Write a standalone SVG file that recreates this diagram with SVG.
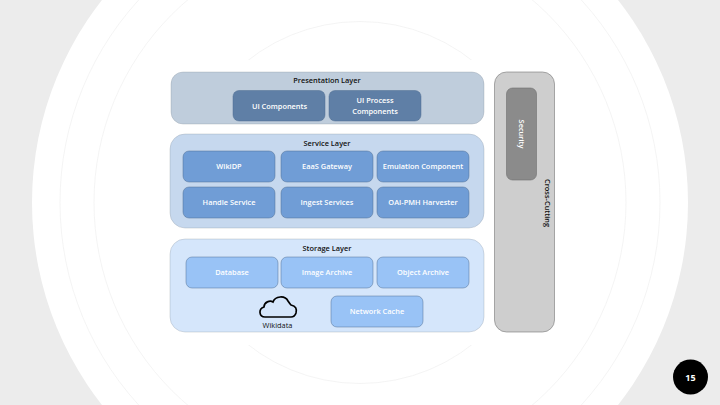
<svg xmlns="http://www.w3.org/2000/svg" width="720" height="405" viewBox="0 0 720 405">
<style>
text{font-family:"Open Sans","Noto Sans",sans-serif;font-size:7.4px;font-weight:600;text-anchor:middle}
.t{fill:#111}
.w{fill:#fff}
.ring{fill:none;stroke:#ececec;stroke-width:.6}
.layer{stroke:#7f8a96;stroke-width:.5;stroke-opacity:.55}
.box{stroke:#4f6c90;stroke-width:.6;stroke-opacity:.8}
</style>
<rect width="720" height="405" fill="#ececec"/>
<circle cx="360" cy="202.5" r="328" fill="#fff"/>
<circle class="ring" cx="360" cy="202.5" r="300"/>
<circle class="ring" cx="360" cy="202.5" r="266"/>
<circle class="ring" cx="360" cy="202.500" r="181"/>
<rect x="165" y="60" width="395" height="285" fill="#fff"/>
<g id="connectors"/>
<g id="presentation-layer"><rect class="layer" x="171" y="72" width="313" height="52" rx="12" fill="#bfcddc"/><text class="t" x="327" y="82.500">Presentation Layer</text></g>
<g id="ui-components"><rect class="box" x="233" y="90.500" width="92" height="30.500" rx="6" fill="#5f7fa6"/><text class="w" x="279.500" y="108.500">UI Components</text></g>
<g id="ui-process"><rect class="box" x="329" y="90.500" width="92" height="30.500" rx="6" fill="#5f7fa6"/><text class="w" x="375" y="103">UI Process</text><text class="w" x="375" y="113.500">Components</text></g>
<g id="service-layer"><rect class="layer" x="170" y="134" width="314" height="94" rx="15" fill="#c6d8ee"/><text class="t" x="327" y="146">Service Layer</text></g>
<g id="wikidp"><rect class="box" x="183" y="151" width="92" height="31" rx="6" fill="#709dd6"/><text class="w" x="229" y="169">WikiDP</text></g>
<g id="eaas-gateway"><rect class="box" x="281" y="151" width="92" height="31" rx="6" fill="#709dd6"/><text class="w" x="327" y="169">EaaS Gateway</text></g>
<g id="emulation-component"><rect class="box" x="377" y="151" width="92" height="31" rx="6" fill="#709dd6"/><text class="w" x="423" y="169">Emulation Component</text></g>
<g id="handle-service"><rect class="box" x="183" y="187" width="92" height="31" rx="6" fill="#709dd6"/><text class="w" x="229" y="205">Handle Service</text></g>
<g id="ingest-services"><rect class="box" x="281" y="187" width="92" height="31" rx="6" fill="#709dd6"/><text class="w" x="327" y="205">Ingest Services</text></g>
<g id="oai-pmh-harvester"><rect class="box" x="377" y="187" width="92" height="31" rx="6" fill="#709dd6"/><text class="w" x="423" y="205">OAI-PMH Harvester</text></g>
<g id="storage-layer"><rect class="layer" x="170" y="239" width="314" height="93" rx="15" fill="#d5e6fb"/><text class="t" x="327" y="251">Storage Layer</text></g>
<g id="database"><rect class="box" x="186" y="257" width="92" height="31" rx="6" fill="#99c3f6"/><text class="w" x="232" y="275">Database</text></g>
<g id="image-archive"><rect class="box" x="281" y="257" width="92" height="31" rx="6" fill="#99c3f6"/><text class="w" x="327" y="275">Image Archive</text></g>
<g id="object-archive"><rect class="box" x="377" y="257" width="92" height="31" rx="6" fill="#99c3f6"/><text class="w" x="423" y="275">Object Archive</text></g>
<g id="network-cache"><rect class="box" x="331" y="296" width="92" height="31" rx="6" fill="#99c3f6"/><text class="w" x="377" y="314">Network Cache</text></g>
<g id="wikidata"><path d="M265 317 C259 317 258 309 264 307 C264 302 270 300 273 302 C275 296 285 295 288 301 C290 304 290 304 291 305 C296 306 297 309 296 313 C295 316 293 317 291 317 Z" fill="none" stroke="#000" stroke-width="1.700"/><text class="t" x="277.500" y="328" style="font-weight:500">Wikidata</text></g>
<g id="cross-cutting"><rect x="494.500" y="72" width="60" height="260" rx="12" fill="#cecece" stroke="#777" stroke-width=".6"/><text class="t" transform="translate(544.500 203) rotate(90)">Cross-Cutting</text></g>
<g id="security"><rect x="506.500" y="88" width="30" height="92" rx="6" fill="#8b8b8b" stroke="#6f6f6f" stroke-width=".6"/><text class="w" transform="translate(518.500 134) rotate(90)">Security</text></g>
<g id="page-number"><circle cx="690.500" cy="377" r="17.500" fill="#000"/><text x="690.500" y="380.500" style="font-size:9px;font-weight:700;fill:#fff">15</text></g>
</svg>
